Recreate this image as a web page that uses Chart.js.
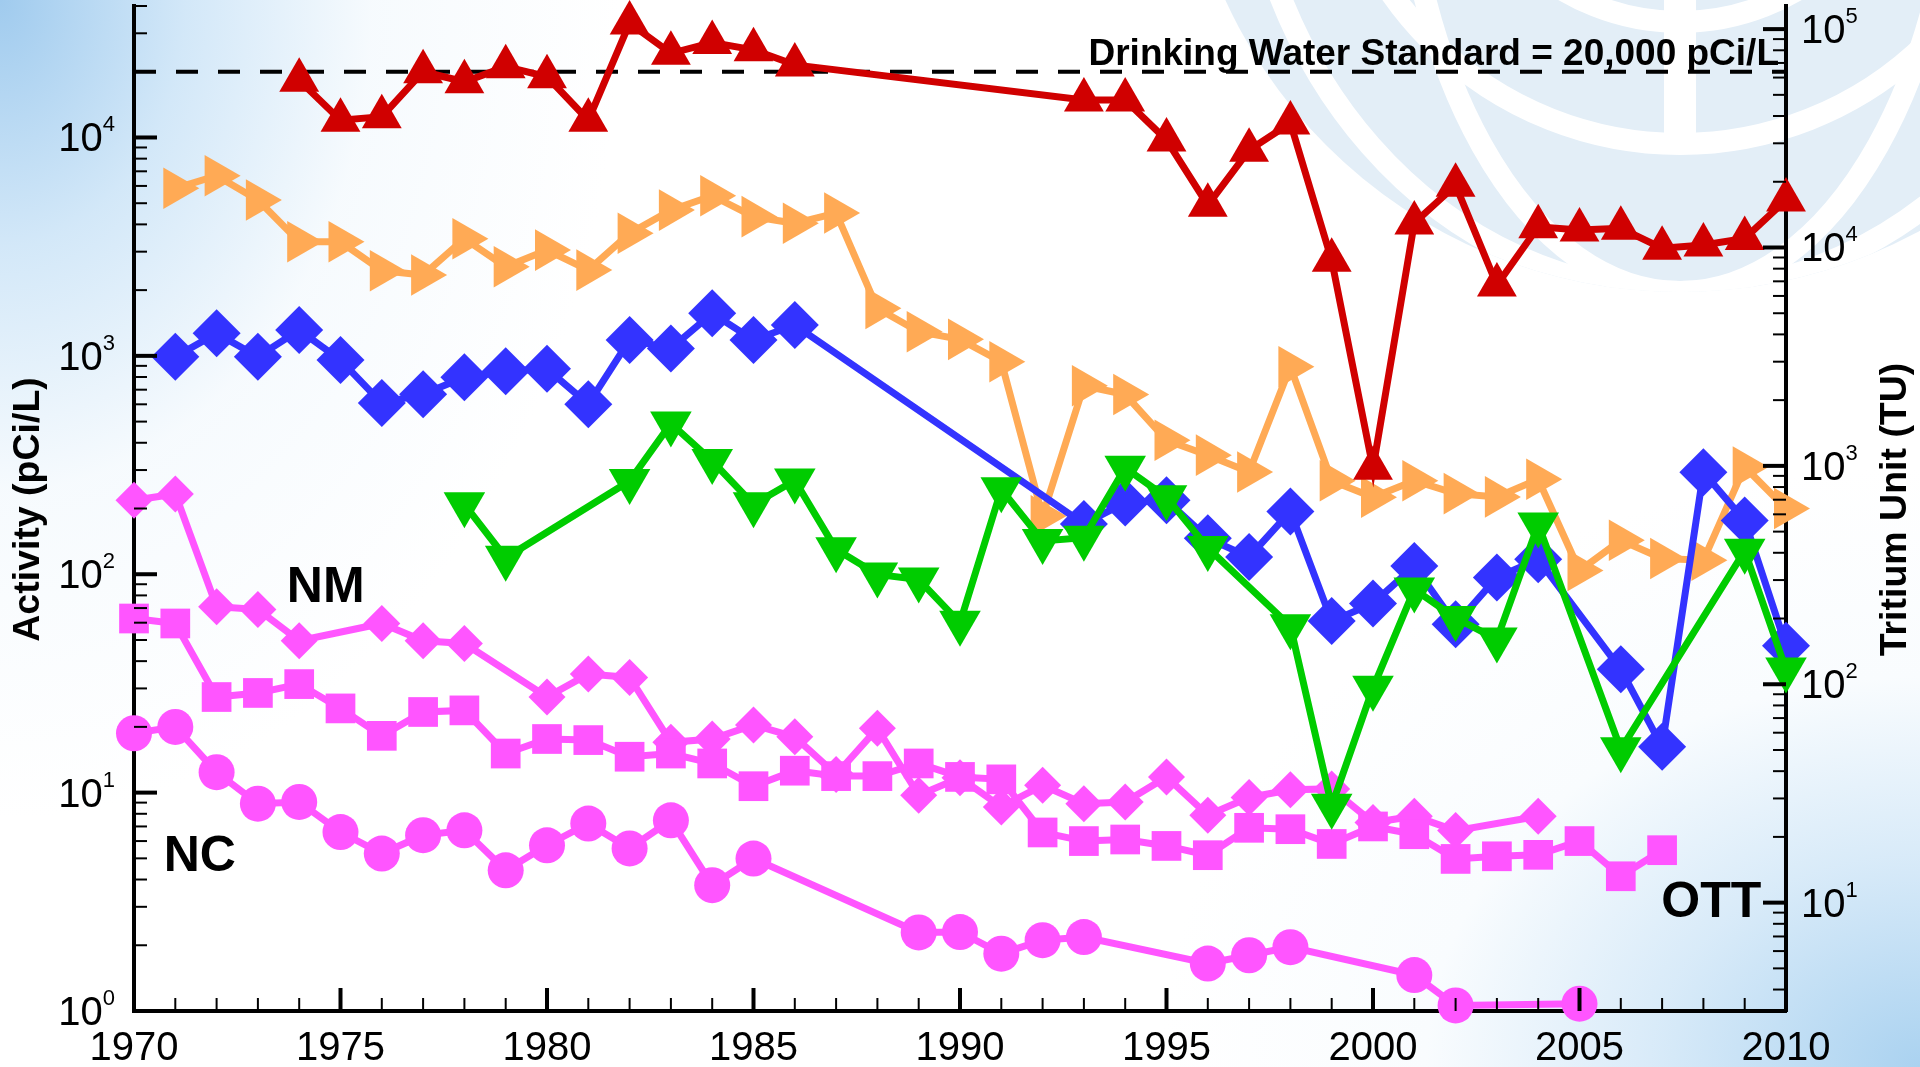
<!DOCTYPE html>
<html><head><meta charset="utf-8">
<script src="https://cdn.jsdelivr.net/npm/chart.js@4.4.1/dist/chart.umd.min.js"></script>
<style>
html,body{margin:0;padding:0;}
body{width:1920px;height:1067px;overflow:hidden;background:
 radial-gradient(ellipse 620px 820px at 0 0, rgba(160,203,238,1) 0%, rgba(196,224,246,0.75) 30%, rgba(230,242,251,0.35) 60%, rgba(255,255,255,0) 100%),
 radial-gradient(ellipse 760px 600px at 100% 100%, rgba(170,210,240,1) 0%, rgba(200,226,246,0.7) 35%, rgba(235,245,252,0.3) 65%, rgba(255,255,255,0) 100%),
 #ffffff;}
#wrap{position:relative;width:1920px;height:1067px;}
</style></head>
<body><div id="wrap"><canvas id="c"></canvas></div>
<script>
// ---------------- data ----------------
const redYears = [1974,1975,1976,1977,1978,1979,1980,1981,1982,1983,1984,1985,1986,1993,1994,1995,1996,1997,1998,1999,2000,2001,2002,2003,2004,2005,2006,2007,2008,2009,2010];
const redValues = [18300,12000,12450,20000,18000,21100,18970,12000,33400,24300,27200,25200,21500,14850,14850,9730,4900,8750,11650,2740,306,4060,6050,2110,3900,3770,3840,3110,3220,3450,5170];

const orangeYears = [1971,1972,1973,1974,1975,1976,1977,1978,1979,1980,1981,1982,1983,1984,1985,1986,1987,1988,1989,1990,1991,1992,1993,1994,1995,1996,1997,1998,1999,2000,2001,2002,2003,2004,2005,2006,2007,2008,2009,2010];
const orangeValues = [5850,6680,5170,3330,3330,2455,2345,3440,2560,3050,2470,3640,4650,5410,4340,4045,4510,1650,1290,1190,940,185,730,665,411,351,294,891,268,225,268,234,226,272,104,143,118,116,310,200];

const blueYears = [1971,1972,1973,1974,1975,1976,1977,1978,1979,1980,1981,1982,1983,1984,1985,1986,1993,1994,1995,1996,1997,1998,1999,2000,2001,2002,2003,2004,2006,2007,2008,2009,2010];
const blueValues = [991,1268,991,1312,957,608,667,798,851,873,601,1183,1082,1566,1183,1384,170,213,218,146,120,194,61,73.5,109,59,96.7,117,36.7,16.2,293,176,47];

const greenYears = [1978,1979,1982,1983,1984,1985,1986,1987,1988,1989,1990,1991,1992,1993,1994,1995,1996,1998,1999,2000,2001,2002,2003,2004,2006,2009,2010];
const greenValues = [209,119,267,490,330,209,269,130,99.8,94.6,59.9,245,142,147,307,225,132,57.8,8.7,30.2,85.2,63.1,50.3,169,15.8,128,36.6];

const nmYears = [1970,1971,1972,1973,1974,1976,1977,1978,1980,1981,1982,1983,1984,1985,1986,1987,1988,1989,1990,1991,1992,1993,1994,1995,1996,1997,1998,1999,2000,2001,2002,2004];
const nmValues = [218,233,71,69,49.6,59.5,49.6,48.2,27.4,34.9,33.7,17,17.6,20.4,18.0,12.1,19.7,9.73,11.7,8.6,10.8,8.9,9.06,11.8,7.88,9.5,10.3,10.4,7.3,7.8,6.7,7.8];

const sqYears = [1970,1971,1972,1973,1974,1975,1976,1977,1978,1979,1980,1981,1982,1983,1984,1985,1986,1987,1988,1989,1990,1991,1992,1993,1994,1995,1996,1997,1998,1999,2000,2001,2002,2003,2004,2005,2006,2007];
const sqValues = [62.7,59.5,27.4,28.6,31.4,24.3,18.2,23.4,23.8,15.1,17.6,17.4,14.6,15.1,13.6,10.7,12.6,11.9,11.9,13.6,11.8,11.5,6.57,6.0,6.1,5.7,5.17,6.9,6.8,5.82,7.0,6.45,4.97,5.11,5.19,6.0,4.14,5.45];

const ncYears = [1970,1971,1972,1973,1974,1975,1976,1977,1978,1979,1980,1981,1982,1983,1984,1985,1989,1990,1991,1992,1993,1996,1997,1998,2001,2002,2005];
const ncValues = [18.7,20.0,12.4,8.9,9.06,6.6,5.26,6.38,6.72,4.41,5.74,7.22,5.55,7.47,3.77,4.99,2.29,2.30,1.83,2.11,2.18,1.65,1.80,1.96,1.46,1.06,1.08];

const standardYears = [1970, 2010];
const standardValues = [20000, 20000];
const standardLabel = 'Drinking Water Standard = 20,000 pCi/L';

const xTickLabels = ['1970','1975','1980','1985','1990','1995','2000','2005','2010'];
const leftTickExponents = ['0','1','2','3','4'];
const rightTickExponents = ['1','2','3','4','5'];
const leftTitle = 'Activity (pCi/L)';
const rightTitle = 'Tritium Unit (TU)';
const seriesLabels = [
  {text:'NM', year:1973.7, value:74.5, align:'left'},
  {text:'NC', year:1970.72, value:4.37, align:'left'},
  {text:'OTT', year:2009.4, value:2.69, align:'right'}
];

const TU_PER_PCI = 3.19;
const X_MIN = 1970, X_MAX = 2010, Y_MIN = 1, Y_MAX = 40000;

// ---------------- chart ----------------
const FONT = '"Liberation Sans", Arial, Helvetica, sans-serif';
function pts(xs, ys){ return xs.map((x,i)=>({x:x, y:ys[i]})); }
function series(label, xs, ys, color, style, radius, rotation){
  return {
    label: label, data: pts(xs, ys), yAxisID:'y',
    borderColor: color, backgroundColor: color, borderWidth: 7,
    pointStyle: style, pointRadius: radius, pointHoverRadius: radius,
    pointRotation: rotation || 0,
    pointBackgroundColor: color, pointBorderColor: color, pointBorderWidth: 0,
    tension: 0, clip: false
  };
}

const watermark = {
  id:'watermark',
  beforeDraw(chart){
    const ctx = chart.ctx;
    const cx = 1680, cy = -208, R = 500;
    ctx.save();
    ctx.beginPath(); ctx.arc(cx, cy, R, 0, Math.PI*2);
    ctx.fillStyle = '#E3EEF7'; ctx.fill();
    ctx.clip();
    ctx.strokeStyle = '#ffffff';
    ctx.lineWidth = 22;
    ctx.beginPath(); ctx.arc(cx, cy, 352, 0, Math.PI*2); ctx.stroke();
    ctx.beginPath(); ctx.arc(cx, cy, 230, 0, Math.PI*2); ctx.stroke();
    [280, 438].forEach(rx => { ctx.beginPath(); ctx.ellipse(cx, cy, rx, R, 0, 0, Math.PI*2); ctx.stroke(); });
    ctx.fillStyle = '#ffffff';
    ctx.fillRect(cx - 16, 0, 32, cy + 352);
    ctx.restore();
  }
};

const decor = {
  id:'decor',
  afterDraw(chart){
    const {ctx, chartArea: ca, scales} = chart;
    const xs = scales.x, ys = scales.y, y2 = scales.y2;
    ctx.save();
    ctx.strokeStyle = '#000'; ctx.fillStyle = '#000';
    const tick = (x1,y1,x2,y2_,w)=>{ ctx.lineWidth = w; ctx.beginPath(); ctx.moveTo(x1,y1); ctx.lineTo(x2,y2_); ctx.stroke(); };
    // left ticks
    for (let e = 0; e <= 4; e++) for (let m = 1; m <= 9; m++) {
      const v = m*Math.pow(10,e); if (v > Y_MAX || (e===0 && m===1)) continue;
      const py = ys.getPixelForValue(v); const major = m===1;
      tick(ca.left, py, ca.left + (major?23:13), py, major?4:2);
    }
    // right ticks
    for (let e = 0; e <= 5; e++) for (let m = 1; m <= 9; m++) {
      const v = m*Math.pow(10,e); if (v < y2.min || v > y2.max) continue;
      const py = y2.getPixelForValue(v); const major = m===1;
      tick(ca.right, py, ca.right - (major?23:13), py, major?4:2);
    }
    // bottom ticks
    for (let yr = X_MIN+1; yr < X_MAX; yr++) {
      const px = xs.getPixelForValue(yr); const major = yr % 5 === 0;
      tick(px, ca.bottom, px, ca.bottom - (major?23:13), major?4:2);
    }
    // x labels
    ctx.font = '40px ' + FONT; ctx.textAlign = 'center'; ctx.textBaseline = 'alphabetic';
    xTickLabels.forEach(l => { ctx.fillText(l, xs.getPixelForValue(+l), 1060); });
    // left labels
    leftTickExponents.forEach(ex => {
      const py = ys.getPixelForValue(Math.pow(10, +ex));
      ctx.font = '22px ' + FONT; const ew = ctx.measureText(ex).width;
      ctx.textAlign = 'right'; ctx.fillText(ex, 115, py - 6);
      ctx.font = '40px ' + FONT; ctx.fillText('10', 115 - ew, py + 14);
    });
    // right labels
    rightTickExponents.forEach(ex => {
      const py = y2.getPixelForValue(Math.pow(10, +ex));
      ctx.font = '40px ' + FONT; ctx.textAlign = 'left';
      const w = ctx.measureText('10').width;
      ctx.fillText('10', 1801, py + 14);
      ctx.font = '22px ' + FONT; ctx.fillText(ex, 1801 + w, py - 6);
    });
    // axis titles
    ctx.font = 'bold 37.5px ' + FONT; ctx.textAlign = 'center';
    const midY = (ca.top + ca.bottom)/2 + 1;
    ctx.save(); ctx.translate(39, midY); ctx.rotate(-Math.PI/2); ctx.fillText(leftTitle, 0, 0); ctx.restore();
    ctx.save(); ctx.translate(1906, midY); ctx.rotate(-Math.PI/2); ctx.fillText(rightTitle, 0, 0); ctx.restore();
    // standard label
    ctx.font = 'bold 37px ' + FONT; ctx.textAlign = 'right';
    ctx.fillText(standardLabel, ca.right - 7, ys.getPixelForValue(standardValues[0]) - 7);
    // series labels
    ctx.font = 'bold 50px ' + FONT;
    seriesLabels.forEach(s => { ctx.textAlign = s.align; ctx.fillText(s.text, xs.getPixelForValue(s.year), ys.getPixelForValue(s.value)); });
    ctx.restore();
  }
};

new Chart(document.getElementById('c'), {
  type: 'line',
  data: { datasets: [
    series('Red', redYears, redValues, '#D00000', 'triangle', 23, 0),
    series('Green', greenYears, greenValues, '#00CC00', 'triangle', 24, 180),
    series('Blue', blueYears, blueValues, '#3333FF', 'rectRot', 24, 0),
    series('Orange', orangeYears, orangeValues, '#FFAA55', 'triangle', 24, 90),
    series('NC', ncYears, ncValues, '#FF55FF', 'circle', 18, 0),
    series('OTT', sqYears, sqValues, '#FF55FF', 'rect', 21, 0),
    series('NM', nmYears, nmValues, '#FF55FF', 'rectRot', 18.5, 0),
    { label:'Standard', data: pts(standardYears, standardValues), yAxisID:'y', borderColor:'#000', borderWidth:4,
      borderDash:[22,20], pointRadius:0, tension:0, clip:false }
  ]},
  options: {
    responsive: true, maintainAspectRatio: false, animation: false, devicePixelRatio: 1, events: [],
    layout: { autoPadding: false, padding: { left:134, right:134, top:6, bottom:56 } },
    plugins: { legend:{display:false}, tooltip:{enabled:false} },
    scales: {
      x: { type:'linear', min:X_MIN, max:X_MAX, position:'bottom', grid:{display:false, drawTicks:false}, ticks:{display:false}, border:{display:true, color:'#000', width:4} },
      y: { type:'logarithmic', min:Y_MIN, max:Y_MAX, position:'left', grid:{display:false, drawTicks:false}, ticks:{display:false}, border:{display:true, color:'#000', width:4} },
      y2: { type:'logarithmic', min:Y_MIN*TU_PER_PCI, max:Y_MAX*TU_PER_PCI, position:'right', grid:{display:false, drawTicks:false}, ticks:{display:false}, border:{display:true, color:'#000', width:4} }
    }
  },
  plugins: [watermark, decor]
});
</script></body></html>
